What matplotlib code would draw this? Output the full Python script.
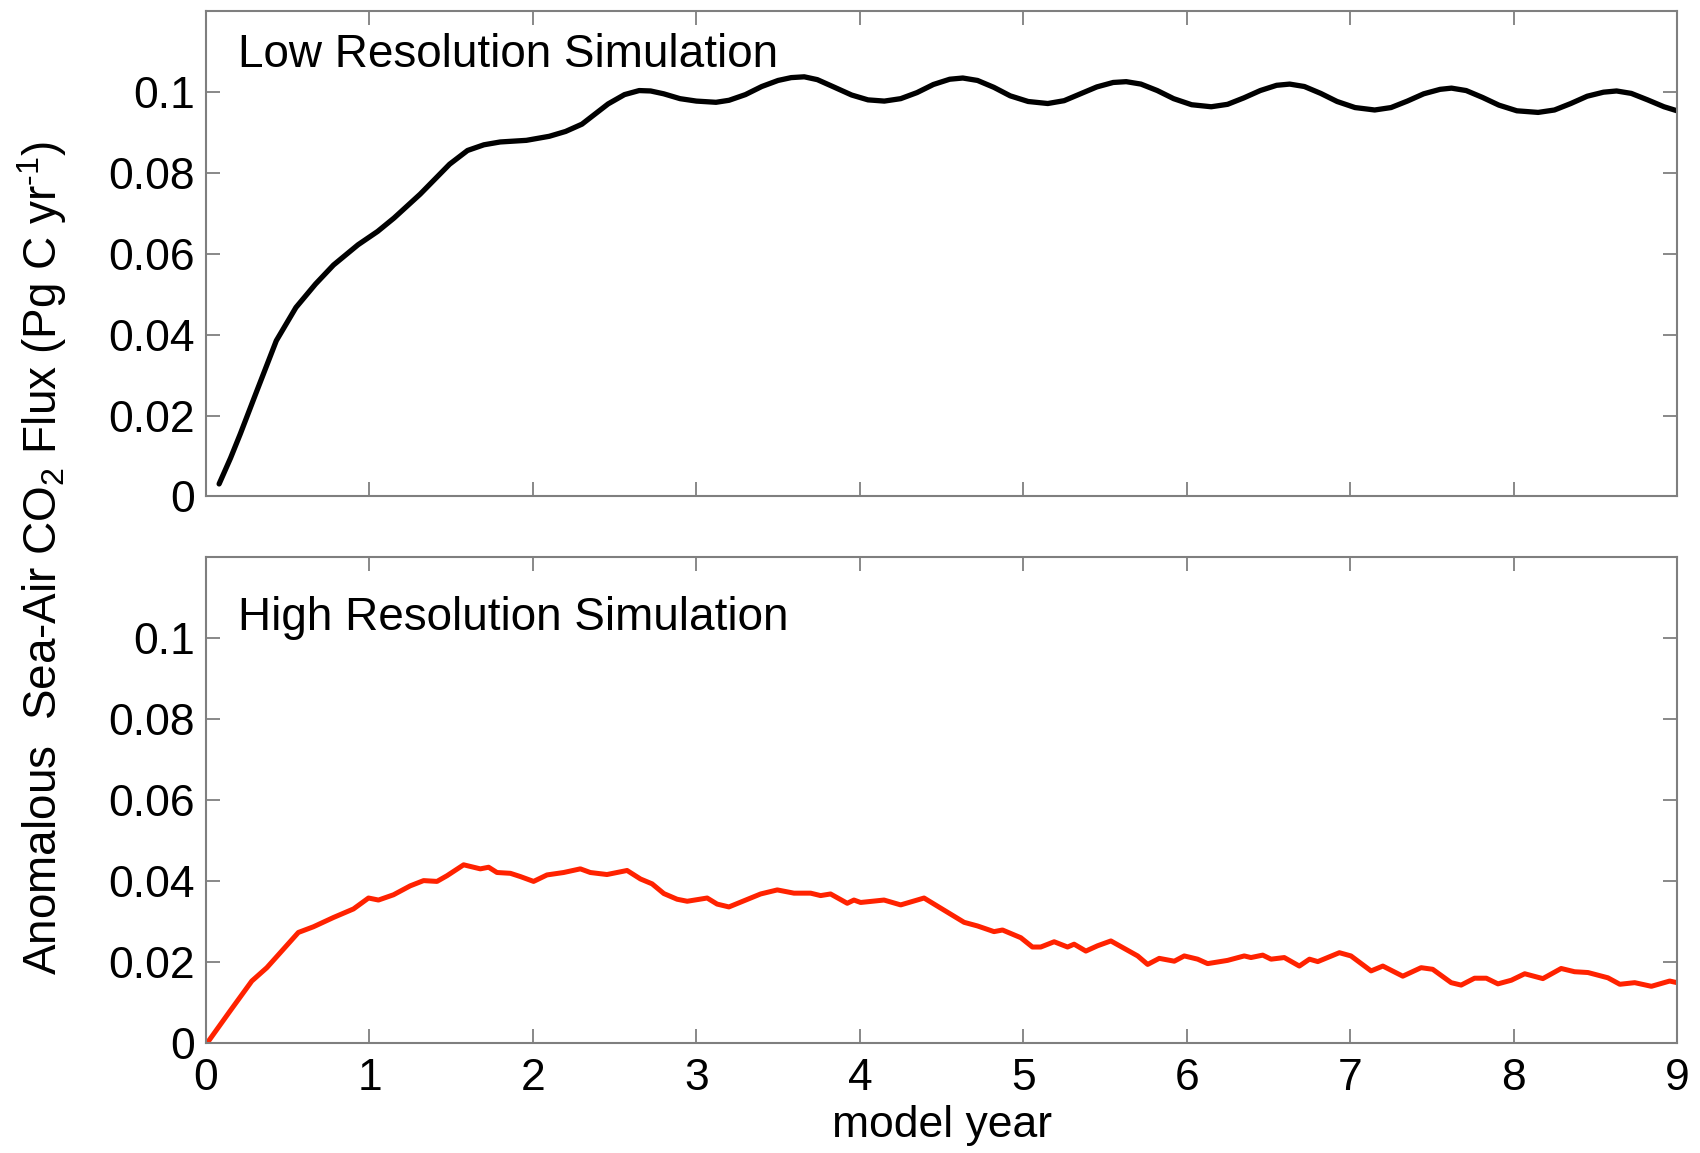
import matplotlib
matplotlib.use("Agg")
import matplotlib.pyplot as plt

plt.rcParams['font.family'] = ['Liberation Sans', 'DejaVu Sans']
plt.rcParams['mathtext.fontset'] = 'custom'
plt.rcParams['mathtext.rm'] = 'Liberation Sans'
plt.rcParams['mathtext.it'] = 'Liberation Sans'

# ---- data ----
low_year = [0.08, 0.15, 0.21, 0.31, 0.43, 0.55, 0.67, 0.78, 0.93, 1.05, 1.15, 1.31, 1.49, 1.60, 1.70,
            1.80, 1.96, 2.10, 2.20, 2.30, 2.46, 2.56, 2.65, 2.72, 2.80, 2.90, 3.00, 3.12, 3.20, 3.30,
            3.40, 3.50, 3.58, 3.66, 3.74, 3.84, 3.95, 4.05, 4.15, 4.25, 4.35, 4.45, 4.55, 4.63, 4.72,
            4.82, 4.92, 5.03, 5.15, 5.25, 5.35, 5.45, 5.55, 5.63, 5.72, 5.82, 5.92, 6.03, 6.15, 6.25,
            6.35, 6.45, 6.55, 6.63, 6.72, 6.82, 6.92, 7.03, 7.15, 7.25, 7.35, 7.45, 7.55, 7.62, 7.71,
            7.81, 7.91, 8.02, 8.15, 8.25, 8.35, 8.45, 8.55, 8.63, 8.72, 8.82, 8.92, 9.00]
low_flux = [0.0031, 0.0095, 0.0155, 0.0260, 0.0385, 0.0467, 0.0525, 0.0572, 0.0622, 0.0655, 0.0688,
            0.0747, 0.0821, 0.0855, 0.0869, 0.0876, 0.0880, 0.0890, 0.0902, 0.0920, 0.0970, 0.0993,
            0.1003, 0.1002, 0.0995, 0.0983, 0.0977, 0.0974, 0.0979, 0.0993, 0.1013, 0.1028, 0.1035,
            0.1037, 0.1030, 0.1012, 0.0992, 0.0980, 0.0977, 0.0983, 0.0998, 0.1018, 0.1031, 0.1034,
            0.1028, 0.1011, 0.0990, 0.0976, 0.0971, 0.0978, 0.0995, 0.1012, 0.1023, 0.1025, 0.1019,
            0.1003, 0.0983, 0.0968, 0.0963, 0.0969, 0.0985, 0.1003, 0.1016, 0.1019, 0.1013, 0.0996,
            0.0976, 0.0961, 0.0955, 0.0961, 0.0977, 0.0995, 0.1006, 0.1009, 0.1003, 0.0986, 0.0967,
            0.0953, 0.0949, 0.0955, 0.0971, 0.0989, 0.0999, 0.1002, 0.0996, 0.0980, 0.0963, 0.0953]

high_year = [0.014, 0.147, 0.28, 0.372, 0.463, 0.565, 0.657, 0.78, 0.902, 0.994, 1.055, 1.147,
             1.249, 1.331, 1.413, 1.474, 1.576, 1.678, 1.729, 1.78, 1.862, 1.923, 2.004, 2.086,
             2.188, 2.29, 2.351, 2.453,
             2.576, 2.658, 2.729, 2.801, 2.882, 2.944, 3.066, 3.127, 3.199, 3.29, 3.393, 3.495,
             3.597, 3.699, 3.76,
             3.821, 3.923, 3.964, 4.005, 4.148, 4.25, 4.393, 4.495, 4.638, 4.72, 4.821, 4.873,
             4.985, 5.056,
             5.107, 5.189, 5.271, 5.311, 5.383, 5.454, 5.536, 5.638, 5.70, 5.761, 5.832, 5.924,
             5.985, 6.067, 6.128, 6.25, 6.352,
             6.393, 6.465, 6.516, 6.597, 6.689, 6.751, 6.802, 6.934, 7.005, 7.128, 7.20, 7.322,
             7.434, 7.505, 7.618,
             7.679, 7.761, 7.833, 7.904, 7.986, 8.068, 8.179, 8.291, 8.373, 8.455, 8.577, 8.65,
             8.741, 8.843, 8.955, 9.0]
high_flux = [0.0004, 0.0079, 0.0153, 0.0186, 0.0227, 0.0273, 0.0287, 0.0310, 0.0331, 0.0358, 0.0353,
             0.0366,
             0.0388, 0.0401, 0.0399, 0.0413, 0.0440, 0.0430, 0.0434, 0.0421, 0.0419, 0.0411, 0.0399,
             0.0415, 0.0421, 0.0430, 0.0421, 0.0416,
             0.0426, 0.0405, 0.0393, 0.0369, 0.0355, 0.0350, 0.0358, 0.0343, 0.0336, 0.0351, 0.0368,
             0.0378, 0.0370, 0.0370, 0.0364,
             0.0368, 0.0345, 0.0353, 0.0347, 0.0353, 0.0341, 0.0358, 0.0333, 0.0298, 0.0289, 0.0275,
             0.0279, 0.0260, 0.0237,
             0.0237, 0.0250, 0.0237, 0.0244, 0.0227, 0.0240, 0.0252, 0.0229, 0.0215, 0.0194, 0.0209,
             0.0202, 0.0215, 0.0207, 0.0196, 0.0204, 0.0215,
             0.0211, 0.0217, 0.0207, 0.0211, 0.0190, 0.0207, 0.0201, 0.0223, 0.0215, 0.0178, 0.0190,
             0.0165, 0.0186, 0.0182, 0.0149,
             0.0143, 0.0160, 0.0160, 0.0146, 0.0155, 0.0171, 0.0159, 0.0184, 0.0176, 0.0174, 0.0161,
             0.0145, 0.0149, 0.0140, 0.0153, 0.0149]

panel_titles = ["Low Resolution Simulation", "High Resolution Simulation"]
x_ticks = [0, 1, 2, 3, 4, 5, 6, 7, 8, 9]
y_ticks = [0, 0.02, 0.04, 0.06, 0.08, 0.1]
y_tick_labels = ["0", "0.02", "0.04", "0.06", "0.08", "0.1"]

# ---- figure ----
fig = plt.figure(figsize=(17, 11.53), dpi=100)
ax1 = fig.add_axes([0.1212, 0.5694, 0.8653, 0.4212])
ax2 = fig.add_axes([0.1212, 0.0954, 0.8653, 0.4215])

spine_col = '#7f7f7f'
for ax in (ax1, ax2):
    ax.set_xlim(0, 9)
    ax.set_ylim(0, 0.12)
    ax.set_xticks(x_ticks)
    ax.set_yticks(y_ticks)
    ax.set_yticklabels(y_tick_labels)
    ax.tick_params(direction='in', length=10, width=1.3, color=spine_col,
                   top=True, right=True, labelsize=32, pad=8)
    ax.tick_params(axis='x', pad=11)
    for s in ax.spines.values():
        s.set_color(spine_col)
        s.set_linewidth(1.5)

ax1.plot(low_year, low_flux, color='black', lw=3.8, solid_capstyle='round',
         solid_joinstyle='round')
ax2.plot(high_year, high_flux, color='#ff2200', lw=3.6, solid_joinstyle='round',
         solid_capstyle='round')

ax1.set_xticklabels([])
ax2.set_xticklabels([str(v) for v in x_ticks])
ax2.set_xlabel("model year", fontsize=32, labelpad=4)

ax1.text(0.022, 0.955, panel_titles[0], transform=ax1.transAxes, fontsize=33,
         ha='left', va='top')
ax2.text(0.022, 0.92, panel_titles[1], transform=ax2.transAxes, fontsize=33,
         ha='left', va='top')

fig.text(0.025, 0.516, r"Anomalous  Sea-Air CO$_2$ Flux (Pg C yr$^{\text{-1}}$)",
         rotation=90, fontsize=33, ha='center', va='center')

fig.savefig("out.png", dpi=100)
